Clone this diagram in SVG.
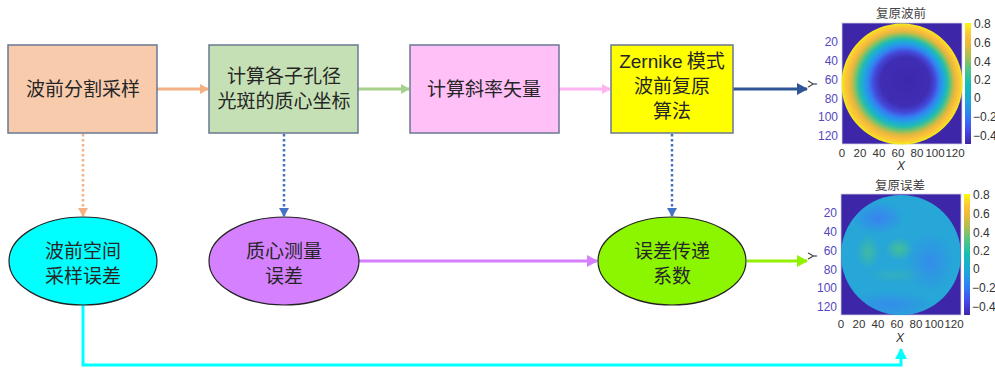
<svg xmlns="http://www.w3.org/2000/svg" width="995" height="373" viewBox="0 0 995 373">
<defs>
<style>
.box{stroke:#6a7893;stroke-width:1.5}
.ell{stroke:#222;stroke-width:1.2}
.t{font-family:"Noto Sans CJK SC","Liberation Sans",sans-serif;font-size:19px;fill:#262626;text-anchor:middle}
.tz{font-family:"Liberation Sans","Noto Sans CJK SC",sans-serif}
.ax{font-family:"Liberation Sans",sans-serif;font-size:12px;fill:#333}
.xt{font-family:"Liberation Sans",sans-serif;font-size:11.5px;fill:#333;text-anchor:middle}
.ay{font-family:"Liberation Sans",sans-serif;font-size:12px;fill:#5548c0;text-anchor:end}
.ttl{font-family:"Noto Sans CJK SC",sans-serif;font-size:12.5px;fill:#444;text-anchor:middle}
.dot{fill:none;stroke-width:2.5;stroke-dasharray:2.5 2.5}
.ln{fill:none;stroke-width:3}
</style>
<marker id="mO" markerWidth="10" markerHeight="10" refX="8" refY="5" orient="auto" markerUnits="userSpaceOnUse"><path d="M0,0 L9,5 L0,10 z" fill="#f4b183"/></marker>
<marker id="mG" markerWidth="10" markerHeight="10" refX="8" refY="5" orient="auto" markerUnits="userSpaceOnUse"><path d="M0,0 L9,5 L0,10 z" fill="#a9d18e"/></marker>
<marker id="mP" markerWidth="10" markerHeight="10" refX="8" refY="5" orient="auto" markerUnits="userSpaceOnUse"><path d="M0,0 L9,5 L0,10 z" fill="#ffb3f2"/></marker>
<marker id="mD" markerWidth="12" markerHeight="12" refX="10" refY="6" orient="auto" markerUnits="userSpaceOnUse"><path d="M0,0 L11,6 L0,12 z" fill="#2f5597"/></marker>
<marker id="mB" markerWidth="10" markerHeight="10" refX="8" refY="5" orient="auto" markerUnits="userSpaceOnUse"><path d="M0,0 L9,5 L0,10 z" fill="#4472c4"/></marker>
<marker id="mV" markerWidth="12" markerHeight="12" refX="10" refY="6" orient="auto" markerUnits="userSpaceOnUse"><path d="M0,0 L11,6 L0,12 z" fill="#d580ff"/></marker>
<marker id="mL" markerWidth="12" markerHeight="12" refX="10" refY="6" orient="auto" markerUnits="userSpaceOnUse"><path d="M0,0 L11,6 L0,12 z" fill="#92f000"/></marker>
<marker id="mC" markerWidth="12" markerHeight="12" refX="10" refY="6" orient="auto" markerUnits="userSpaceOnUse"><path d="M0,0 L11,6 L0,12 z" fill="#00ffff"/></marker>
<linearGradient id="cbar" x1="0" y1="1" x2="0" y2="0">
<stop offset="0" stop-color="#3e26a8"/>
<stop offset="0.1" stop-color="#4744e5"/>
<stop offset="0.22" stop-color="#3379f7"/>
<stop offset="0.35" stop-color="#1ea5de"/>
<stop offset="0.5" stop-color="#14bdb5"/>
<stop offset="0.62" stop-color="#53c583"/>
<stop offset="0.72" stop-color="#a6bf53"/>
<stop offset="0.82" stop-color="#eab93a"/>
<stop offset="0.9" stop-color="#fcc43a"/>
<stop offset="1" stop-color="#f9fb0e"/>
</linearGradient>
<radialGradient id="wf" cx="902" cy="84" r="61" fx="907" fy="80" gradientUnits="userSpaceOnUse">
<stop offset="0" stop-color="#3d28ac"/>
<stop offset="0.4" stop-color="#3f2db4"/>
<stop offset="0.5" stop-color="#4448d8"/>
<stop offset="0.58" stop-color="#3480f2"/>
<stop offset="0.66" stop-color="#1ea8dc"/>
<stop offset="0.72" stop-color="#22bcb0"/>
<stop offset="0.78" stop-color="#72c270"/>
<stop offset="0.84" stop-color="#d6b940"/>
<stop offset="0.9" stop-color="#fbbc3c"/>
<stop offset="0.96" stop-color="#f7d52c"/>
<stop offset="1" stop-color="#f9f514"/>
</radialGradient>
<radialGradient id="gb" cx="0.5" cy="0.5" r="0.5">
<stop offset="0" stop-color="#46c092" stop-opacity="0.95"/>
<stop offset="1" stop-color="#46c092" stop-opacity="0"/>
</radialGradient>
<radialGradient id="bb" cx="0.5" cy="0.5" r="0.5">
<stop offset="0" stop-color="#3b7ef4" stop-opacity="0.9"/>
<stop offset="1" stop-color="#3b7ef4" stop-opacity="0"/>
</radialGradient>
<clipPath id="cc2"><circle cx="901" cy="255" r="60"/></clipPath>
</defs>
<rect width="995" height="373" fill="#fff"/>

<g id="connectors">
<line x1="157" y1="89" x2="208" y2="89" class="ln" stroke="#f4b183" marker-end="url(#mO)"/>
<line x1="358" y1="89" x2="409" y2="89" class="ln" stroke="#a9d18e" marker-end="url(#mG)"/>
<line x1="559" y1="89" x2="610" y2="89" class="ln" stroke="#ffb3f2" marker-end="url(#mP)"/>
<line x1="733" y1="89" x2="807" y2="89" class="ln" stroke="#2f5597" marker-end="url(#mD)"/>
<line x1="83" y1="134" x2="83" y2="216" class="dot" stroke="#f4b183" marker-end="url(#mO)"/>
<line x1="284" y1="134" x2="284" y2="216" class="dot" stroke="#4472c4" marker-end="url(#mB)"/>
<line x1="672" y1="134" x2="672" y2="216" class="dot" stroke="#4472c4" marker-end="url(#mB)"/>
<line x1="358" y1="261" x2="597" y2="261" class="ln" stroke="#d580ff" marker-end="url(#mV)"/>
<line x1="747" y1="261" x2="807" y2="261" class="ln" stroke="#92f000" marker-end="url(#mL)"/>
<polyline points="83,305 83,365 901,365 901,349" class="ln" stroke="#00ffff" marker-end="url(#mC)"/>
</g>

<g id="n1"><rect x="8" y="45" width="149" height="88" fill="#f8cbad" class="box"/><text class="t" x="83" y="96">波前分割采样</text></g>
<g id="n2"><rect x="209" y="45" width="149" height="88" fill="#c5e0b4" class="box"/><text class="t" x="284" y="83">计算各子孔径</text><text class="t" x="284" y="108">光斑的质心坐标</text></g>
<g id="n3"><rect x="410" y="45" width="149" height="88" fill="#ffc0f8" class="box"/><text class="t" x="484" y="96">计算斜率矢量</text></g>
<g id="n4"><rect x="611" y="45" width="122" height="88" fill="#ffff00" class="box"/><text class="t" x="672" y="68"><tspan class="tz">Zernike</tspan> 模式</text><text class="t" x="672" y="93">波前复原</text><text class="t" x="672" y="118">算法</text></g>

<g id="e1"><ellipse cx="83" cy="261" rx="74" ry="44" fill="#00ffff" class="ell"/><text class="t" x="83" y="258">波前空间</text><text class="t" x="83" y="283">采样误差</text></g>
<g id="e2"><ellipse cx="284" cy="261" rx="75" ry="44" fill="#d580ff" class="ell"/><text class="t" x="284" y="258">质心测量</text><text class="t" x="284" y="283">误差</text></g>
<g id="e3"><ellipse cx="672" cy="261" rx="74" ry="44" fill="#8cf500" class="ell"/><text class="t" x="672" y="258">误差传递</text><text class="t" x="672" y="283">系数</text></g>

<g id="plot1">
<text class="ttl" x="901" y="18">复原波前</text>
<rect x="842" y="23" width="120" height="121" fill="#3e26a8" stroke="#cfcfe0" stroke-width="0.8"/>
<circle cx="902" cy="84" r="60.5" fill="url(#wf)"/>
<rect x="965" y="23" width="6" height="121" fill="url(#cbar)"/>
<g class="ax">
<text x="974" y="28">0.8</text><text x="974" y="47">0.6</text><text x="974" y="66">0.4</text><text x="974" y="84">0.2</text><text x="974" y="102">0</text><text x="973" y="121">−0.2</text><text x="973" y="140">−0.4</text>
</g>
<g class="ay">
<text x="838" y="46">20</text><text x="838" y="65">40</text><text x="838" y="84">60</text><text x="838" y="103">80</text><text x="838" y="121">100</text><text x="838" y="140">120</text>
</g>
<g class="xt">
<text x="842" y="157">0</text><text x="860" y="157">20</text><text x="879" y="157">40</text><text x="898" y="157">60</text><text x="917" y="157">80</text><text x="935" y="157">100</text><text x="955" y="157">120</text>
</g>
<text x="901" y="170" class="ax" font-style="italic" font-size="13" text-anchor="middle">X</text>
<text x="0" y="0" class="ax" font-size="12" fill="#5548c0" text-anchor="middle" transform="translate(817,84) rotate(-90)">Y</text>
</g>

<g id="plot2">
<text class="ttl" x="900" y="190">复原误差</text>
<rect x="841" y="194" width="120" height="121" fill="#3e26a8" stroke="#cfcfe0" stroke-width="0.8"/>
<circle cx="901" cy="255" r="60" fill="#27a6d8"/>
<g clip-path="url(#cc2)">
<ellipse cx="878" cy="218" rx="26" ry="16" fill="url(#bb)"/>
<ellipse cx="930" cy="262" rx="24" ry="30" fill="url(#bb)" opacity="0.7"/>
<ellipse cx="890" cy="305" rx="45" ry="14" fill="url(#bb)" opacity="0.7"/>
<ellipse cx="899" cy="249" rx="14" ry="12" fill="url(#gb)"/>
<ellipse cx="868" cy="252" rx="12" ry="18" fill="url(#gb)" opacity="0.8"/>
<ellipse cx="895" cy="275" rx="30" ry="8" fill="url(#gb)" opacity="0.35"/>
</g>
<rect x="964" y="194" width="6" height="121" fill="url(#cbar)"/>
<g class="ax">
<text x="973" y="199">0.8</text><text x="973" y="218">0.6</text><text x="973" y="237">0.4</text><text x="973" y="255">0.2</text><text x="973" y="273">0</text><text x="972" y="292">−0.2</text><text x="972" y="311">−0.4</text>
</g>
<g class="ay">
<text x="837" y="217">20</text><text x="837" y="236">40</text><text x="837" y="255">60</text><text x="837" y="274">80</text><text x="837" y="292">100</text><text x="837" y="311">120</text>
</g>
<g class="xt">
<text x="841" y="328">0</text><text x="859" y="328">20</text><text x="878" y="328">40</text><text x="897" y="328">60</text><text x="916" y="328">80</text><text x="934" y="328">100</text><text x="954" y="328">120</text>
</g>
<text x="900" y="342" class="ax" font-style="italic" font-size="13" text-anchor="middle">X</text>
<text x="0" y="0" class="ax" font-size="12" fill="#5548c0" text-anchor="middle" transform="translate(817,256) rotate(-90)">Y</text>
</g>
</svg>
